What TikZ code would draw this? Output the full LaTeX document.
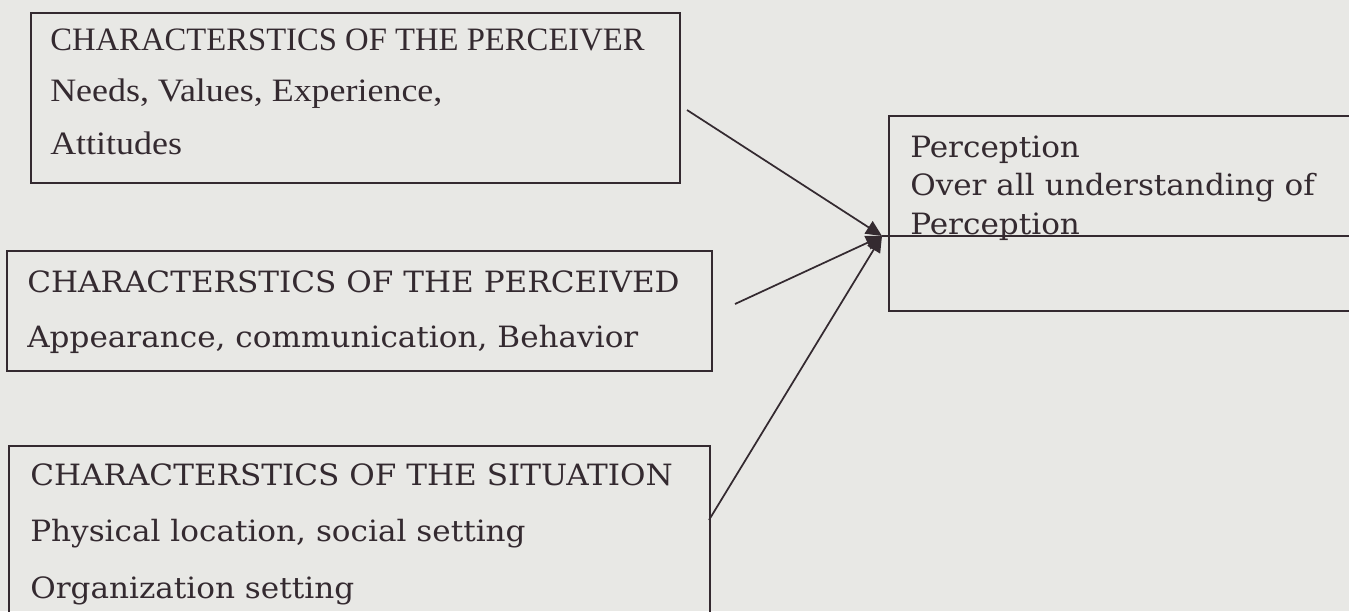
\documentclass[tikz,border=0pt]{standalone}
\usepackage{fontspec}
\setmainfont{Liberation Serif}
\newfontfamily\widefont[FakeStretch=1.1]{Liberation Serif}
\newfontfamily\bookfont[FakeStretch=1.06]{DejaVu Serif}
\usepackage{tikz}
\usetikzlibrary{arrows.meta}
\definecolor{paper}{RGB}{232,232,229}
\definecolor{ink}{RGB}{52,42,48}
\tikzstyle{box}=[draw=ink,line width=1.3pt,rectangle,inner sep=0pt,anchor=north west]
\tikzstyle{headtext}=[anchor=base west,inner sep=0pt,text=ink,font=\fontsize{24.5}{29}\selectfont]
\tikzstyle{itemtext}=[anchor=base west,inner sep=0pt,text=ink,font=\widefont\fontsize{24.5}{29}\selectfont]
\tikzstyle{booktext}=[anchor=base west,inner sep=0pt,text=ink,font=\bookfont\fontsize{22}{26}\selectfont]
\tikzstyle{edge}=[draw=ink,line width=1.3pt,-{Triangle[length=12pt,width=11pt]}]

\begin{document}
\begin{tikzpicture}[x=0.75pt,y=-0.75pt]
        \clip (0,0) rectangle (1349,611);
        \fill[paper] (0,0) rectangle (1349,611);
        % boxes
        \node[box,minimum width=486.75pt,minimum height=127.5pt] (perceiver) at (30,12) {};
        \node[box,minimum width=528.75pt,minimum height=90pt] (perceived) at (6,250) {};
        \node[box,minimum width=525.75pt,minimum height=150pt] (situation) at (8,445) {};
        \node[box,minimum width=360pt,minimum height=146.25pt] (perception) at (888,115) {};
        % texts
        \node[headtext] (perceiver1) at (50,50) {CHARACTERSTICS OF THE PERCEIVER};
        \node[itemtext] (perceiver2) at (50,101) {Needs, Values, Experience,};
        \node[itemtext] (perceiver3) at (50,154) {Attitudes};
        \node[booktext] (perceived1) at (27,292) {CHARACTERSTICS OF THE PERCEIVED};
        \node[booktext] (perceived2) at (27,347) {Appearance, communication, Behavior};
        \node[booktext] (situation1) at (30,485) {CHARACTERSTICS OF THE SITUATION};
        \node[booktext] (situation2) at (30,541) {Physical location, social setting};
        \node[booktext] (situation3) at (30,598) {Organization setting};
        \node[booktext] (perception1) at (910,157) {Perception};
        \node[booktext] (perception2) at (910,195) {Over all understanding of};
        \node[booktext] (perception3) at (910,234) {Perception};
        % connectors
        \coordinate (tip) at (882,236);
        \coordinate (from1) at (687,110);
        \coordinate (from2) at (735,304);
        \coordinate (from3) at (709,520);
        \draw[draw=ink,line width=1.3pt] (tip) -- (tip -| perception.east);
        \draw[edge] (from1) to (tip);
        \draw[edge] (from2) to (tip);
        \draw[edge] (from3) to (tip);
      \end{tikzpicture}
\end{document}
